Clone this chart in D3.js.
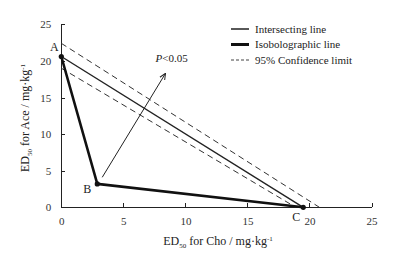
<!DOCTYPE html>
<meta charset="utf-8">
<style>
body { margin: 0; background: #fff; }
svg text { font-family: "Liberation Serif", "Times New Roman", Times, "DejaVu Serif", serif; fill: #222; }
.axis path, .axis line { stroke: #222; stroke-width: 1px; shape-rendering: crispEdges; }
.axis text { font-size: 11px; fill: #333; }
</style>
<body>
<script src="https://d3js.org/d3.v7.min.js"></script>
<script>

// data
var xTicks = [0, 5, 10, 15, 20, 25];
var yTicks = [0, 5, 10, 15, 20, 25];
var isobolo = [[0, 20.6], [2.9, 3.2], [19.5, 0]];   // A, B, C
var intersecting = [[0, 20.6], [19.5, 0]];
var upperLimit = [[0, 22.4], [20.8, 0]];
var lowerLimit = [[0, 19.0], [18.9, 0]];
var pointLabels = ["A", "B", "C"];
var arrow = [[3.3, 4.1], [8.4, 18.3]];
var legendNames = ["Intersecting line", "Isobolographic line", "95% Confidence limit"];

var W = 419, H = 254;
var serif = "'Liberation Serif', 'Times New Roman', Times, serif";
var x = d3.scaleLinear().domain([0, 25]).range([61.3, 371.5]);
var y = d3.scaleLinear().domain([0, 25]).range([207.3, 24.3]);

var svg = d3.select("body").append("svg")
    .attr("width", W).attr("height", H)
    .attr("font-family", serif);

svg.append("defs").append("marker")
    .attr("id", "arr")
    .attr("viewBox", "0 0 10 10")
    .attr("refX", 9).attr("refY", 5)
    .attr("markerWidth", 7).attr("markerHeight", 7)
    .attr("orient", "auto")
  .append("path")
    .attr("d", "M0,1 L9,5 L0,9")
    .attr("fill", "none")
    .attr("stroke", "#222")
    .attr("stroke-width", 1.4);

// axes, ticks pointing inward
var xAxis = svg.append("g").attr("class", "axis")
    .attr("transform", "translate(0," + y(0) + ")")
    .call(d3.axisBottom(x).tickValues(xTicks).tickSize(-4).tickPadding(10).tickSizeOuter(0));
var yAxis = svg.append("g").attr("class", "axis")
    .attr("transform", "translate(" + x(0) + ",0)")
    .call(d3.axisLeft(y).tickValues(yTicks).tickSize(-4).tickPadding(10).tickSizeOuter(0));
svg.selectAll(".axis").attr("font-family", serif);

var line = d3.line().x(function(d) { return x(d[0]); }).y(function(d) { return y(d[1]); });

// confidence limits
[upperLimit, lowerLimit].forEach(function(l) {
  svg.append("path").datum(l)
      .attr("d", line)
      .attr("fill", "none")
      .attr("stroke", "#333")
      .attr("stroke-width", 1)
      .attr("stroke-dasharray", "6,4");
});

svg.append("path").datum(intersecting)
    .attr("d", line)
    .attr("fill", "none")
    .attr("stroke", "#222")
    .attr("stroke-width", 1.4);

svg.append("path").datum(isobolo)
    .attr("d", line)
    .attr("fill", "none")
    .attr("stroke", "#111")
    .attr("stroke-width", 2.6)
    .attr("stroke-linejoin", "round");

svg.selectAll(".pt").data(isobolo).enter().append("circle")
    .attr("cx", function(d) { return x(d[0]); })
    .attr("cy", function(d) { return y(d[1]); })
    .attr("r", 2.6)
    .attr("fill", "#111");

var labOff = [[-7, -8], [-10, 6], [-7, 11]];
svg.selectAll(".lab").data(isobolo).enter().append("text")
    .attr("x", function(d, i) { return x(d[0]) + labOff[i][0]; })
    .attr("y", function(d, i) { return y(d[1]) + labOff[i][1]; })
    .attr("text-anchor", "middle")
    .attr("dominant-baseline", "middle")
    .style("font-size", "12px")
    .text(function(d, i) { return pointLabels[i]; });

// arrow
svg.append("path").datum(arrow)
    .attr("d", line)
    .attr("stroke", "#222")
    .attr("stroke-width", 1)
    .attr("marker-end", "url(#arr)");

var pt = svg.append("text")
    .attr("x", x(7.6)).attr("y", y(18.7) - 8)
    .style("font-size", "11px");
pt.append("tspan").style("font-style", "italic").text("P");
pt.append("tspan").text("<0.05");

// legend
var leg = svg.append("g").attr("transform", "translate(231,29)");
var styles = [{w: 1.4, d: null}, {w: 3, d: null}, {w: 0.8, d: "3,2"}];
legendNames.forEach(function(n, i) {
  var g = leg.append("g").attr("transform", "translate(0," + (i * 15.5) + ")");
  g.append("line").attr("x1", 0).attr("x2", 18)
      .attr("stroke", "#111").attr("stroke-width", styles[i].w)
      .attr("stroke-dasharray", styles[i].d);
  g.append("text").attr("x", 24).attr("y", 0).attr("dy", "0.35em")
      .style("font-size", "11px").text(n);
});

// axis titles
var xt = svg.append("text")
    .attr("x", 218).attr("y", 245)
    .attr("text-anchor", "middle")
    .style("font-size", "12px");
xt.append("tspan").text("ED");
xt.append("tspan").attr("dy", 3).style("font-size", "7px").text("50");
xt.append("tspan").attr("dy", -3).text(" for Cho / mg·kg");
xt.append("tspan").attr("dy", -4).style("font-size", "7px").text("-1");

var yt = svg.append("text")
    .attr("transform", "translate(29,118) rotate(-90)")
    .attr("text-anchor", "middle")
    .style("font-size", "12px");
yt.append("tspan").text("ED");
yt.append("tspan").attr("dy", 3).style("font-size", "7px").text("50");
yt.append("tspan").attr("dy", -3).text(" for Ace / mg·kg");
yt.append("tspan").attr("dy", -4).style("font-size", "7px").text("-1");

</script>
</body>
